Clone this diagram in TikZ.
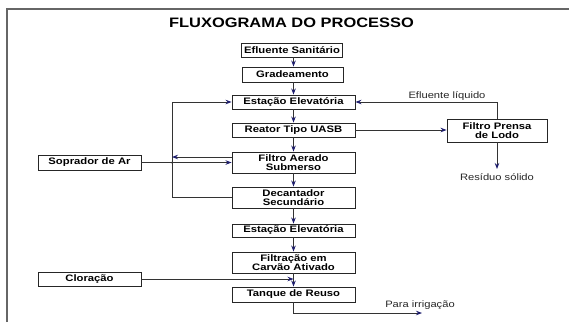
\documentclass[tikz,border=0pt]{standalone}
\usepackage{fontspec}
\setmainfont{Liberation Sans}[FakeStretch=1.2]
\usetikzlibrary{arrows.meta}
\definecolor{tipc}{HTML}{1E1E6E}
\definecolor{linec}{HTML}{333333}
\begin{document}
\begin{tikzpicture}[x=1pt,y=-1pt,
  box/.style={draw=black!85, line width=0.9pt, fill=white, inner sep=0pt,
    align=center, font=\fontsize{9.4}{9.4}\selectfont\bfseries},
  wbox/.style={box, minimum width=123pt},
  nbox/.style={box, minimum width=101pt},
  one/.style={minimum height=14pt},
  two/.style={minimum height=21pt},
  lbl/.style={inner sep=0pt, text=black!85, font=\fontsize{9.3}{9.4}\selectfont},
  conn/.style={draw=linec, line width=0.8pt},
  arr/.style={conn, -{Stealth[length=6pt, width=4.5pt, color=tipc]}}
]
\useasboundingbox (0,0) rectangle (569,322);
% frame
\draw[black!60, line width=1.3pt] (7,322) -- (7,9) -- (569,9);
% title
\node[inner sep=0pt, font=\fontsize{13.7}{14}\selectfont\bfseries] (title) at (291.5,23) {FLUXOGRAMA DO PROCESSO};
% main column
\node[nbox, one] (es) at (292,50) {Efluente Sanitário};
\node[nbox, minimum height=15pt] (grad) at (292.5,74.5) {Gradeamento};
\node[wbox, one] (ee1) at (293.5,102) {Estação Elevatória};
\node[wbox, one] (uasb) at (293.5,130) {Reator Tipo UASB};
\node[wbox, two] (fas) at (293.5,162.5) {Filtro Aerado\\Submerso};
\node[wbox, two] (dec) at (293.5,197.5) {Decantador\\Secundário};
\node[wbox, minimum height=13pt] (ee2) at (293.5,230.5) {Estação Elevatória};
\node[wbox, two] (fca) at (293.5,262.5) {Filtração em\\Carvão Ativado};
\node[wbox, minimum height=15pt] (tr) at (293.5,294.5) {Tanque de Reuso};
% side boxes
\node[box, minimum width=103pt, minimum height=15pt] (sop) at (89.5,162.5) {Soprador de Ar};
\node[box, minimum width=103pt, one] (clo) at (89.5,279) {Cloração};
\node[box, minimum width=100pt, minimum height=23pt] (fpl) at (497,130.5) {Filtro Prensa\\de Lodo};
% vertical flow
\draw[arr] (es.south -| ee1) -- (grad.north -| ee1);
\draw[arr] (grad.south -| ee1) -- (ee1.north);
\draw[arr] (ee1) -- (uasb);
\draw[arr] (uasb) -- (fas);
\draw[arr] (fas) -- (dec);
\draw[arr] (dec) -- (ee2);
\draw[arr] (ee2) -- (fca);
\draw[arr] (fca) -- (tr);
% left recirculation loop
\coordinate (ltop) at (172,102);
\coordinate (lbot) at (172,197.5);
\coordinate (lret) at (172,157);
\draw[arr] (dec.west) -- (lbot) -- (ltop) -- (ee1.west);
\draw[arr] (fas.west |- lret) -- (lret);
\draw[arr] (sop.east) -- (fas.west);
\fill[linec] (172,162.5) circle (1pt);
% sludge press
\draw[arr] (uasb.east) -- (fpl.west |- uasb.east);
\draw[arr] (fpl.north) |- (ee1.east);
\node[lbl] (efl) at (447,96) {Efluente líquido};
\coordinate (rs) at (497,169);
\draw[arr] (fpl.south) -- (rs);
\node[lbl] (rst) at (497,177) {Resíduo sólido};
% chlorination
\coordinate (cj) at (293.5,279);
\draw[arr] (clo.east) -- (cj);
% irrigation
\coordinate (ir1) at (293.5,313);
\coordinate (ir2) at (422,313);
\draw[arr] (tr.south) -- (ir1) -- (ir2);
\node[lbl] (irr) at (420,305.5) {Para irrigação};
\end{tikzpicture}
\end{document}
